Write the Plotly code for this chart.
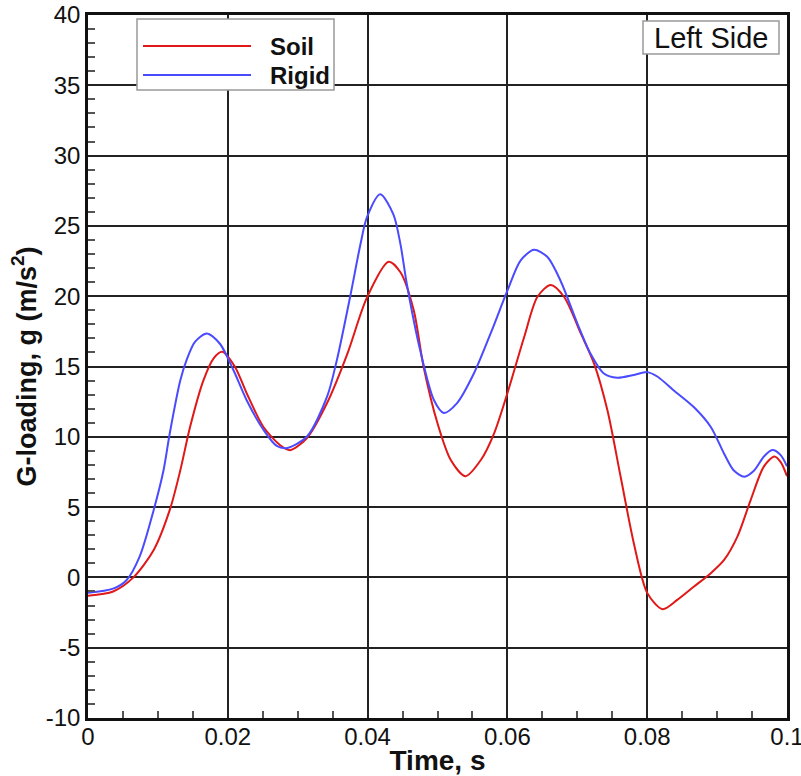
import plotly.graph_objects as go

# ---- data ----
soil_t = [0.0, 0.0036, 0.0065, 0.0094, 0.0117, 0.0132, 0.0146, 0.0165, 0.018, 0.0192,
          0.021, 0.0227, 0.0251, 0.0275, 0.0289, 0.0313, 0.0342, 0.0371, 0.0399, 0.043,
          0.0447, 0.0466, 0.048, 0.05, 0.0519, 0.054, 0.0562, 0.0581, 0.06, 0.0624,
          0.0643, 0.0662, 0.0681, 0.0705, 0.0724, 0.0743, 0.0762, 0.0781, 0.08, 0.0822,
          0.0843, 0.0867, 0.0891, 0.091, 0.0929, 0.0948, 0.0967, 0.0982, 0.0991, 0.1]
soil_g = [-1.3, -1.0, 0.0, 1.95, 4.8, 7.6, 10.7, 14.0, 15.6, 16.05,
          15.0, 13.1, 10.7, 9.4, 9.05, 9.9, 12.4, 15.9, 19.9, 22.45,
          21.7, 19.0, 15.0, 10.96, 8.35, 7.2, 8.35, 10.25, 13.1, 17.1,
          19.96, 20.8, 19.96, 17.35, 15.2, 11.9, 7.16, 2.4, -1.1, -2.26,
          -1.6, -0.65, 0.3, 1.24, 2.9, 5.5, 7.9, 8.6, 8.2, 7.2]

rigid_t = [0.0, 0.0036, 0.0055, 0.0074, 0.0094, 0.0108, 0.0117, 0.0132, 0.0141, 0.0153,
           0.017, 0.0189, 0.0208, 0.0227, 0.0251, 0.027, 0.0285, 0.0313, 0.0342, 0.0356,
           0.0375, 0.039, 0.0399, 0.0418, 0.0437, 0.0447, 0.0456, 0.0475, 0.0495, 0.0509,
           0.0528, 0.0552, 0.0576, 0.06, 0.0619, 0.0638, 0.0657, 0.0676, 0.07, 0.0719,
           0.0738, 0.0757, 0.0781, 0.08, 0.0815, 0.0838, 0.0867, 0.0891, 0.091, 0.0924,
           0.0939, 0.0953, 0.0967, 0.0979, 0.0991, 0.1]
rigid_g = [-1.1, -0.8, -0.2, 1.5, 4.8, 7.6, 10.25, 14.0, 15.45, 16.75,
           17.35, 16.6, 14.75, 12.6, 10.5, 9.35, 9.2, 10.0, 12.85, 15.45,
           19.96, 23.75, 25.6, 27.25, 25.8, 23.7, 20.9, 16.2, 12.6, 11.7,
           12.4, 14.5, 17.35, 20.4, 22.55, 23.3, 22.8, 21.1, 18.07, 15.9,
           14.5, 14.2, 14.4, 14.6, 14.27, 13.3, 12.1, 10.7, 8.8, 7.6,
           7.16, 7.6, 8.6, 9.06, 8.7, 7.9]

series_names = ["Soil", "Rigid"]
series_colors = ["#e01818", "#4a4aff"]

x_ticks = [0, 0.02, 0.04, 0.06, 0.08, 0.1]
x_tick_labels = ["0", "0.02", "0.04", "0.06", "0.08", "0.1"]
y_ticks = [-10, -5, 0, 5, 10, 15, 20, 25, 30, 35, 40]
y_tick_labels = ["-10", "-5", "0", "5", "10", "15", "20", "25", "30", "35", "40"]

FONT = "Liberation Sans, Arial, Helvetica, sans-serif"

fig = go.Figure()
fig.add_trace(go.Scatter(x=soil_t, y=soil_g, mode="lines", name=series_names[0],
                         line=dict(color=series_colors[0], width=2, shape="spline", smoothing=0.8)))
fig.add_trace(go.Scatter(x=rigid_t, y=rigid_g, mode="lines", name=series_names[1],
                         line=dict(color=series_colors[1], width=2, shape="spline", smoothing=0.8)))

axis_common = dict(
    showline=True, linecolor="#111", linewidth=2.5, mirror=True,
    showgrid=True, gridcolor="#222", gridwidth=2,
    zeroline=False, automargin=False,
    ticks="inside", ticklen=14, tickwidth=2, tickcolor="#222",
    tickfont=dict(family=FONT, size=24, color="#111"),
)

fig.update_xaxes(
    range=[-0.0000001, 0.1000001], tickvals=x_ticks, ticktext=x_tick_labels,
    ticklabeloverflow="allow", ticklabelstandoff=-5,
    minor=dict(dtick=0.005, ticks="inside", ticklen=7, tickwidth=1.5, tickcolor="#555", showgrid=False),
    title=dict(text="<b>Time, s</b>", font=dict(family=FONT, size=28, color="#111"), standoff=4),
    **axis_common,
)
fig.update_yaxes(
    range=[-10, 40], tickvals=y_ticks, ticktext=y_tick_labels,
    minor=dict(dtick=1, ticks="inside", ticklen=7, tickwidth=1.5, tickcolor="#555", showgrid=False),
    title=dict(text="<b>G-loading, g (m/s<sup>2</sup>)</b>", font=dict(family=FONT, size=27, color="#111"), standoff=2),
    **axis_common,
)

# legend and label boxes drawn in paper space (long line samples as in the original)
def px2paper_x(px):
    return (px - 88) / 699.0

def px2paper_y(py):
    return (718 - py) / 703.0

shapes = [
    dict(type="rect", xref="paper", yref="paper",
         x0=px2paper_x(137), x1=px2paper_x(334), y0=px2paper_y(90), y1=px2paper_y(19),
         line=dict(color="#999", width=1.5), fillcolor="white", layer="above"),
    dict(type="line", xref="paper", yref="paper",
         x0=px2paper_x(143), x1=px2paper_x(251), y0=px2paper_y(46), y1=px2paper_y(46),
         line=dict(color=series_colors[0], width=2), layer="above"),
    dict(type="line", xref="paper", yref="paper",
         x0=px2paper_x(143), x1=px2paper_x(251), y0=px2paper_y(75), y1=px2paper_y(75),
         line=dict(color=series_colors[1], width=2), layer="above"),
    dict(type="rect", xref="paper", yref="paper",
         x0=px2paper_x(643), x1=px2paper_x(779), y0=px2paper_y(54), y1=px2paper_y(21),
         line=dict(color="#999", width=1.5), fillcolor="white", layer="above"),
]
annotations = [
    dict(xref="paper", yref="paper", x=px2paper_x(268), y=px2paper_y(46), xanchor="left", yanchor="middle",
         text="<b>%s</b>" % series_names[0], showarrow=False, font=dict(family=FONT, size=24, color="#111")),
    dict(xref="paper", yref="paper", x=px2paper_x(268), y=px2paper_y(75), xanchor="left", yanchor="middle",
         text="<b>%s</b>" % series_names[1], showarrow=False, font=dict(family=FONT, size=24, color="#111")),
    dict(xref="paper", yref="paper", x=px2paper_x(711), y=px2paper_y(38), xanchor="center", yanchor="middle",
         text="Left Side", showarrow=False, font=dict(family=FONT, size=29, color="#111")),
]

fig.update_layout(
    width=801, height=776,
    margin=dict(l=88, r=14, t=15, b=58),
    paper_bgcolor="white", plot_bgcolor="white",
    showlegend=False,
    shapes=shapes, annotations=annotations,
)

fig.write_html("out.html")
